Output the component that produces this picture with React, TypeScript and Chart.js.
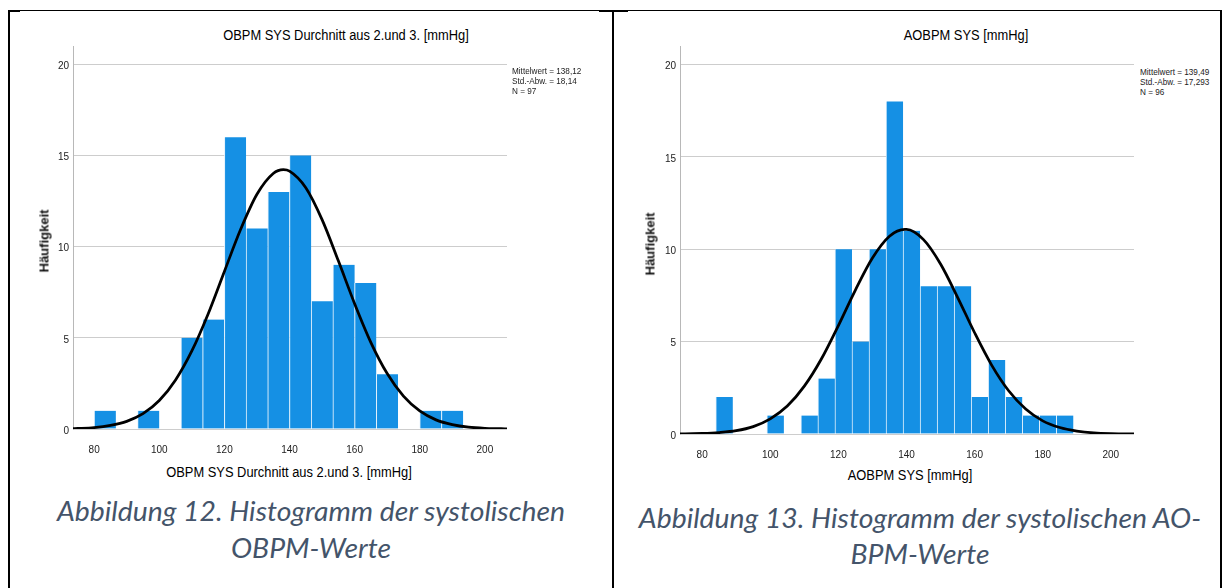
import React, { useEffect, useRef } from "react";
import { Chart, registerables } from "chart.js";

Chart.register(...registerables);

// ---------- data ----------
const X_TICKS = [80, 100, 120, 140, 160, 180, 200];
const Y_TICKS = [0, 5, 10, 15, 20];

// Left: OBPM SYS (bin width 20/3)
const LEFT_BIN_CENTERS = [83.33, 90, 96.67, 103.33, 110, 116.67, 123.33, 130, 136.67, 143.33, 150, 156.67, 163.33, 170, 176.67, 183.33, 190];
const LEFT_COUNTS = [1, 0, 1, 0, 5, 6, 16, 11, 13, 15, 7, 9, 8, 3, 0, 1, 1];
const LEFT_CURVE_X = [73.5, 75, 80, 85, 90, 95, 100, 105, 110, 115, 120, 125, 130, 135, 138.12, 140, 145, 150, 155, 160, 165, 170, 175, 180, 185, 190, 195, 200, 205, 206.8];
const LEFT_CURVE_Y = [0.02, 0.03, 0.08, 0.2, 0.42, 0.84, 1.56, 2.69, 4.28, 6.31, 8.64, 10.95, 12.87, 14.01, 14.22, 14.14, 13.23, 11.48, 9.22, 6.87, 4.74, 3.04, 1.8, 0.99, 0.5, 0.24, 0.1, 0.04, 0.02, 0.01];
const LEFT_STATS = ["Mittelwert = 138,12", "Std.-Abw. = 18,14", "N = 97"];

// Right: AOBPM SYS (bin width 5)
const RIGHT_BIN_CENTERS = [86.5, 91.5, 96.5, 101.5, 106.5, 111.5, 116.5, 121.5, 126.5, 131.5, 136.5, 141.5, 146.5, 151.5, 156.5, 161.5, 166.5, 171.5, 176.5, 181.5, 186.5];
const RIGHT_COUNTS = [2, 0, 0, 1, 0, 1, 3, 10, 5, 10, 18, 11, 8, 8, 8, 2, 4, 2, 1, 1, 1];
const RIGHT_CURVE_X = [73.5, 75, 80, 85, 90, 95, 100, 105, 110, 115, 120, 125, 130, 135, 139.49, 140, 145, 150, 155, 160, 165, 170, 175, 180, 185, 190, 195, 200, 205, 206.8];
const RIGHT_CURVE_Y = [0.01, 0.01, 0.03, 0.08, 0.18, 0.4, 0.82, 1.51, 2.59, 4.06, 5.87, 7.79, 9.52, 10.7, 11.07, 11.07, 10.52, 9.2, 7.4, 5.48, 3.73, 2.34, 1.35, 0.71, 0.35, 0.16, 0.06, 0.02, 0.01, 0.01];
const RIGHT_STATS = ["Mittelwert = 139,49", "Std.-Abw. = 17,293", "N = 96"];

const LEFT_TITLE = "OBPM SYS Durchnitt aus 2.und 3. [mmHg]";
const RIGHT_TITLE = "AOBPM SYS [mmHg]";
const Y_TITLE = "Häufigkeit";
const LEFT_CAPTION = ["Abbildung 12. Histogramm der systolischen", "OBPM-Werte"];
const RIGHT_CAPTION = ["Abbildung 13. Histogramm der systolischen AO-", "BPM-Werte"];

// ---------- styles ----------
const BAR_COLOR = "#1590e4";
const BAR_EDGE = "rgba(225,240,252,0.95)";
const GRID_COLOR = "#cdcdcd";
const AXIS_COLOR = "#b8b8b8";
const TICK_FONT = '"Liberation Sans Narrow", "Liberation Sans", Arial, sans-serif';
const SANS = '"Liberation Sans", Arial, sans-serif';
const CAPTION_COLOR = "#44546A";

type HistProps = {
  left: number;
  top: number;
  width: number;
  height: number;
  yAxisWidth: number;
  xAxisHeight: number;
  padTop: number;
  padRight: number;
  centers: number[];
  counts: number[];
  curveX: number[];
  curveY: number[];
};

function Histogram(p: HistProps) {
  const ref = useRef<HTMLCanvasElement>(null);
  useEffect(() => {
    const chart = new Chart(ref.current as HTMLCanvasElement, {
      type: "bar",
      data: {
        datasets: [
          {
            type: "line",
            data: p.curveX.map((x, i) => ({ x, y: p.curveY[i] })),
            borderColor: "#000",
            borderWidth: 2.75,
            pointRadius: 0,
            cubicInterpolationMode: "monotone",
            fill: false,
            order: 0,
          } as any,
          {
            type: "bar",
            data: p.centers.map((x, i) => ({ x, y: p.counts[i] })),
            backgroundColor: BAR_COLOR,
            borderColor: BAR_EDGE,
            borderWidth: { left: 1, right: 0, top: 0, bottom: 0 },
            categoryPercentage: 1,
            barPercentage: 1,
            order: 1,
          } as any,
        ],
      },
      options: {
        animation: false,
        responsive: false,
        maintainAspectRatio: false,
        layout: { padding: { left: 0, top: p.padTop, right: p.padRight, bottom: 0 } },
        plugins: { legend: { display: false }, tooltip: { enabled: false }, title: { display: false } },
        scales: {
          x: {
            type: "linear",
            min: 73.5,
            max: 206.8,
            offset: false,
            grid: { display: false },
            border: { display: false },
            afterBuildTicks: (s: any) => {
              s.ticks = X_TICKS.map((v) => ({ value: v }));
            },
            afterFit: (s: any) => {
              s.height = p.xAxisHeight;
            },
            ticks: {
              padding: 7,
              color: "#222",
              font: { family: TICK_FONT, size: 10 },
              maxRotation: 0,
              autoSkip: false,
            },
          },
          y: {
            type: "linear",
            min: 0,
            max: 21,
            grid: { color: GRID_COLOR, lineWidth: 1, drawTicks: false },
            border: { display: true, color: AXIS_COLOR, width: 1 },
            afterBuildTicks: (s: any) => {
              s.ticks = Y_TICKS.map((v) => ({ value: v }));
            },
            afterFit: (s: any) => {
              s.width = p.yAxisWidth;
            },
            ticks: {
              padding: 4,
              labelOffset: 2,
              color: "#222",
              font: { family: TICK_FONT, size: 10 },
            },
          },
        },
      } as any,
    });
    return () => chart.destroy();
  }, []);
  return (
    <canvas
      ref={ref}
      width={p.width}
      height={p.height}
      style={{ position: "absolute", left: p.left, top: p.top, width: p.width, height: p.height }}
    />
  );
}

function CText(props: { x: number; y: number; text: string; style?: React.CSSProperties; sx?: number; rotate?: boolean }) {
  const t = props.rotate
    ? "translate(-50%,-50%) rotate(-90deg)"
    : `translate(-50%,-50%) scaleX(${props.sx ?? 1})`;
  return (
    <div
      style={{
        position: "absolute",
        left: props.x,
        top: props.y,
        transform: t,
        whiteSpace: "nowrap",
        lineHeight: 1,
        ...props.style,
      }}
    >
      {props.text}
    </div>
  );
}

function Stats(props: { x: number; y: number; lines: string[] }) {
  return (
    <div
      style={{
        position: "absolute",
        left: props.x,
        top: props.y,
        fontFamily: SANS,
        fontSize: 9.5,
        lineHeight: "10px",
        color: "#222",
        whiteSpace: "nowrap",
        transform: "scaleX(0.86)",
        transformOrigin: "left top",
      }}
    >
      {props.lines.map((l, i) => (
        <div key={i}>{l}</div>
      ))}
    </div>
  );
}

function Line(props: { x: number; y: number; w: number; h: number }) {
  return <div style={{ position: "absolute", left: props.x, top: props.y, width: props.w, height: props.h, background: "#000" }} />;
}

export default function App() {
  const titleStyle: React.CSSProperties = { fontFamily: SANS, fontSize: 14, color: "#000" };
  const yTitleStyle: React.CSSProperties = { fontFamily: SANS, fontSize: 13, fontWeight: 700, color: "#111" };
  const capStyle: React.CSSProperties = {
    fontFamily: "Lato, 'Open Sans', sans-serif",
    fontStyle: "italic",
    fontWeight: 400,
    fontSize: 27,
    color: CAPTION_COLOR,
  };
  const capSx = 1.05;
  return (
    <div style={{ position: "absolute", left: 0, top: 0, width: 1228, height: 588, background: "#fff", overflow: "hidden" }}>
      {/* table borders */}
      <Line x={8} y={10} w={1214} h={1} />
      <Line x={8} y={10} w={12} h={2} />
      <Line x={599} y={10} w={29} h={2} />
      <Line x={8} y={10} w={2} h={578} />
      <Line x={612} y={10} w={2} h={578} />
      <Line x={1220} y={10} w={2} h={578} />

      {/* left panel */}
      <CText x={346} y={35} text={LEFT_TITLE} sx={0.92} style={titleStyle} />
      <Histogram
        left={20}
        top={36}
        width={493}
        height={417}
        yAxisWidth={53}
        xAxisHeight={24}
        padTop={10}
        padRight={6}
        centers={LEFT_BIN_CENTERS}
        counts={LEFT_COUNTS}
        curveX={LEFT_CURVE_X}
        curveY={LEFT_CURVE_Y}
      />
      <Stats x={512} y={66} lines={LEFT_STATS} />
      <CText x={44} y={241} text={Y_TITLE} rotate style={yTitleStyle} />
      <CText x={289} y={472} text={LEFT_TITLE} sx={0.92} style={titleStyle} />
      <CText x={311} y={510} text={LEFT_CAPTION[0]} sx={capSx} style={capStyle} />
      <CText x={311} y={547} text={LEFT_CAPTION[1]} sx={capSx} style={capStyle} />

      {/* right panel */}
      <CText x={966} y={35} text={RIGHT_TITLE} sx={0.92} style={titleStyle} />
      <Histogram
        left={630}
        top={36}
        width={510}
        height={422}
        yAxisWidth={50}
        xAxisHeight={24}
        padTop={10}
        padRight={6}
        centers={RIGHT_BIN_CENTERS}
        counts={RIGHT_COUNTS}
        curveX={RIGHT_CURVE_X}
        curveY={RIGHT_CURVE_Y}
      />
      <Stats x={1140} y={67} lines={RIGHT_STATS} />
      <CText x={650} y={244} text={Y_TITLE} rotate style={yTitleStyle} />
      <CText x={910} y={475} text={RIGHT_TITLE} sx={0.92} style={titleStyle} />
      <CText x={920} y={517} text={RIGHT_CAPTION[0]} sx={capSx} style={capStyle} />
      <CText x={920} y={553} text={RIGHT_CAPTION[1]} sx={capSx} style={capStyle} />
    </div>
  );
}
